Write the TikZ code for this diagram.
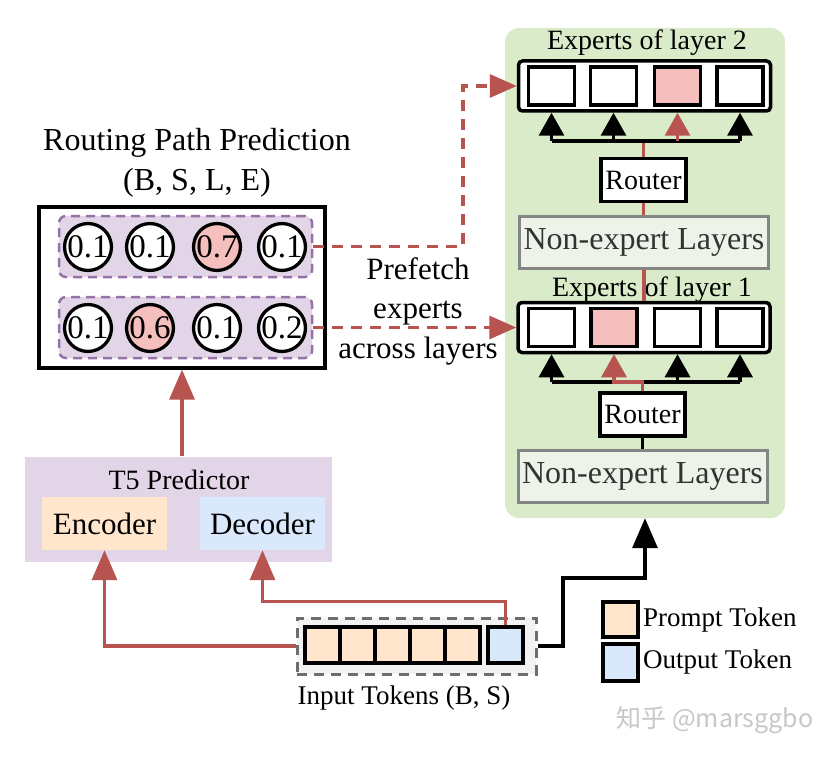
\documentclass[tikz,border=0pt]{standalone}
\usepackage{fontspec}
\setmainfont{Liberation Serif}
\newfontfamily\cjkwm{Noto Sans CJK SC}
\usetikzlibrary{arrows.meta}
\definecolor{myred}{HTML}{B85450}
\definecolor{mypink}{HTML}{F5BFBD}
\definecolor{mygreen}{HTML}{D9EBC9}
\definecolor{mypurple}{HTML}{E1D5E7}
\definecolor{mypurpleline}{HTML}{9673A6}
\definecolor{myorange}{HTML}{FFE6CC}
\definecolor{myblue}{HTML}{DAE8FC}
\definecolor{nefill}{HTML}{EEF3EA}
\definecolor{negray}{HTML}{858585}
\definecolor{tokbg}{HTML}{F2F2F2}
\definecolor{tokline}{HTML}{6E6E6E}
\tikzset{
  fs/.style={font=\fontsize{#1}{#1}\selectfont},
  blk/.style={draw=black, line width=3.5pt, inner sep=0pt},
  expouter/.style={blk, fill=white, rounded corners=4pt, minimum width=252pt, minimum height=50pt},
  expinner/.style={blk, fill=white, minimum width=46pt, minimum height=38pt},
  routerbox/.style={blk, fill=white, minimum width=85pt, minimum height=43pt, fs=28},
  nebox/.style={draw=negray, line width=3pt, fill=nefill, inner sep=0pt, minimum width=249pt, minimum height=52pt, text=black!80, fs=32},
  rowbox/.style={draw=mypurpleline, fill=mypurple, line width=2.5pt, dash pattern=on 9pt off 6pt, rounded corners=7pt, minimum width=253pt, minimum height=61pt},
  prob/.style={circle, draw=black, line width=3.3pt, fill=white, minimum size=43pt, inner sep=0pt, fs=33},
  cell/.style={blk, minimum width=35pt, minimum height=36pt},
  shorttip/.style={-{Triangle[length=23pt,width=25pt]}},
  longtip/.style={-{Triangle[length=30pt,width=25pt]}},
  blackline/.style={draw=black, line width=3.3pt},
  redline/.style={draw=myred, line width=3.3pt},
  reddash/.style={redline, dash pattern=on 11pt off 8pt, -{Triangle[length=27pt,width=23pt]}},
  lbl/.style={inner sep=0pt, fs=#1},
}
\begin{document}
\begin{tikzpicture}[x=1pt,y=-1pt]
\useasboundingbox (0,0) rectangle (840,762);
\fill[white] (0,0) rectangle (840,762);

% green background
\node[fill=mygreen, rounded corners=14pt, minimum width=280pt, minimum height=490pt, inner sep=0pt] (bg) at (645,273) {};

% labels
\node[lbl=28] (l2) at (647,43) {Experts of layer 2};
\node[lbl=28] (l1) at (652,290) {Experts of layer 1};

% experts layer 2
\node[expouter] (e2) at (644.5,86) {};
\node[expinner] (e2a) at (551.5,86) {};
\node[expinner] (e2b) at (613.5,86) {};
\node[expinner, fill=mypink] (e2c) at (677.5,86) {};
\node[expinner] (e2d) at (740,86) {};
\node[routerbox] (r2) at (643.5,180) {Router};
\node[nebox] (ne2) at (644,242) {Non-expert Layers};

% experts layer 1
\node[expouter] (e1) at (644,327.5) {};
\node[expinner] (e1a) at (551.5,327.5) {};
\node[expinner, fill=mypink] (e1b) at (614,327.5) {};
\node[expinner] (e1c) at (677.5,327.5) {};
\node[expinner] (e1d) at (740,327.5) {};
\node[routerbox] (r1) at (642.5,414.5) {Router};
\node[nebox] (ne1) at (642.5,476.5) {Non-expert Layers};

\coordinate (h2) at (644,141);
\coordinate (h1) at (644,382);

% layer 2 routing
\draw[redline] (r2.north) -- (r2.north |- h2) -- (e2c |- h2);
\draw[blackline] (e2a |- h2) -- (e2d |- h2);
\foreach \n in {e2a,e2b,e2d} \draw[blackline, shorttip] (\n |- h2) -- (\n |- e2.south);
\draw[redline, shorttip] (e2c |- h2) -- (e2c |- e2.south);
\draw[redline] (r2.south) -- (r2.south |- ne2.north);
\draw[redline] (ne2.south) -- (ne2.south |- e1.north);

% layer 1 routing
\draw[blackline] (e1a |- h1) -- (e1d |- h1);
\foreach \n in {e1a,e1c,e1d} \draw[blackline, shorttip] (\n |- h1) -- (\n |- e1.south);
\draw[redline, shorttip] (r1.north) -- (r1.north |- h1) -- (e1b |- h1) -- (e1b |- e1.south);
\draw[blackline] (r1.south) -- (r1.south |- ne1.north);

% routing path prediction
\node[lbl=32] (rt1) at (197,143) {Routing Path Prediction};
\node[lbl=32] (rt2) at (197,183) {(B, S, L, E)};
\node[blk, line width=3.3pt, fill=white, minimum width=286pt, minimum height=161pt] (rp) at (182,287.5) {};
\node[rowbox] (row1) at (185.5,246.5) {};
\node[rowbox] (row2) at (185.5,327.5) {};
\node[prob] (p11) at (88,247) {0.1};
\node[prob] (p12) at (150,247) {0.1};
\node[prob, fill=mypink] (p13) at (217,247) {0.7};
\node[prob] (p14) at (282,247) {0.1};
\node[prob] (p21) at (88,328) {0.1};
\node[prob, fill=mypink] (p22) at (150,328) {0.6};
\node[prob] (p23) at (217,328) {0.1};
\node[prob] (p24) at (282,328) {0.2};

% prefetch arrows
\coordinate (bend) at (463,246.5);
\draw[reddash] (row1.east) -- (bend) |- (e2.west);
\draw[reddash] (row2.east) -- (e1.west);
\node[lbl=31, align=center, font=\fontsize{31}{39.5}\selectfont] (pf) at (418,311) {Prefetch\\experts\\across layers};

% T5 predictor
\node[fill=mypurple, minimum width=307pt, minimum height=105pt, inner sep=0pt] (t5) at (178.5,509) {};
\node[lbl=28] (t5l) at (179,480) {T5 Predictor};
\node[fill=myorange, minimum width=125pt, minimum height=53pt, inner sep=0pt, fs=31] (enc) at (104.5,523.5) {Encoder};
\node[fill=myblue, minimum width=125pt, minimum height=53pt, inner sep=0pt, fs=31] (dec) at (262.5,523.5) {Decoder};
\draw[redline, longtip] (t5.north -| rp.south) -- (rp.south);

% input tokens
\node[draw=tokline, fill=tokbg, line width=3pt, dash pattern=on 10pt off 7pt, minimum width=239pt, minimum height=56pt, inner sep=0pt] (tok) at (416.5,646) {};
\foreach \i/\x in {1/322.5,2/357.5,3/392.5,4/427.5,5/462.5}
  \node[cell, fill=myorange] (c\i) at (\x,645) {};
\node[cell, fill=myblue] (out) at (505.5,645) {};
\node[lbl=27] (tokl) at (404,698) {Input Tokens (B, S)};

\draw[redline, longtip] (tok.west) -| (enc.south);
\draw[redline, longtip] (out.north) -- ++(0,-24) -| (dec.south);
\draw[blackline, longtip] (tok.east) -| (563,578) -| (bg.south);

% legend
\node[cell, fill=myorange, minimum height=35pt] (lp) at (620.5,619.5) {};
\node[cell, fill=myblue, minimum height=37pt] (lo) at (620.5,662.5) {};
\node[lbl=27, anchor=west] (lpt) at (643,620) {Prompt Token};
\node[lbl=27, anchor=west] (lot) at (643,662) {Output Token};

% watermark
\node[inner sep=0pt, text=black!22, font=\cjkwm\fontsize{25}{25}\selectfont] (wm) at (715,720) {知乎 @marsggbo};
\end{tikzpicture}
\end{document}
